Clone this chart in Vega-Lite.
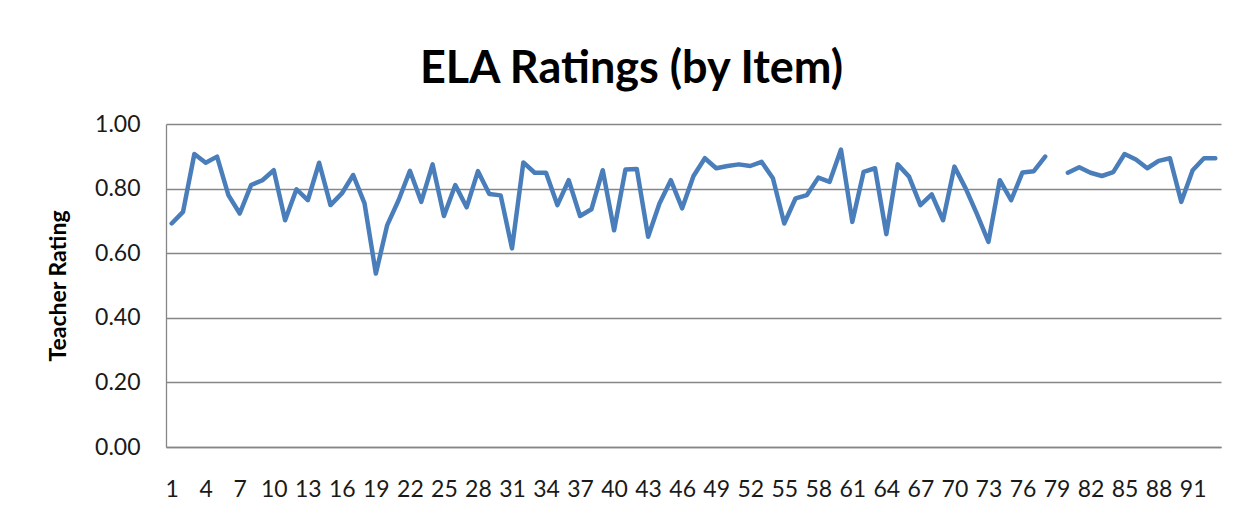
{
  "$schema": "https://vega.github.io/schema/vega-lite/v6.json",
  "width": 1055,
  "height": 323,
  "autosize": {"type": "none"},
  "padding": {"left": 166, "top": 124, "right": 24, "bottom": 77},
  "background": "white",
  "title": {
    "text": "ELA Ratings (by Item)",
    "font": "Lato",
    "fontSize": 45,
    "fontWeight": "bold",
    "color": "#000000",
    "anchor": "middle",
    "dx": -62,
    "offset": 21
  },
  "data": {
    "values": [
      {"item": 1, "rating": 0.692},
      {"item": 2, "rating": 0.728},
      {"item": 3, "rating": 0.907},
      {"item": 4, "rating": 0.880},
      {"item": 5, "rating": 0.899},
      {"item": 6, "rating": 0.780},
      {"item": 7, "rating": 0.723},
      {"item": 8, "rating": 0.811},
      {"item": 9, "rating": 0.826},
      {"item": 10, "rating": 0.857},
      {"item": 11, "rating": 0.702},
      {"item": 12, "rating": 0.798},
      {"item": 13, "rating": 0.764},
      {"item": 14, "rating": 0.880},
      {"item": 15, "rating": 0.749},
      {"item": 16, "rating": 0.785},
      {"item": 17, "rating": 0.842},
      {"item": 18, "rating": 0.754},
      {"item": 19, "rating": 0.537},
      {"item": 20, "rating": 0.687},
      {"item": 21, "rating": 0.764},
      {"item": 22, "rating": 0.855},
      {"item": 23, "rating": 0.759},
      {"item": 24, "rating": 0.875},
      {"item": 25, "rating": 0.715},
      {"item": 26, "rating": 0.811},
      {"item": 27, "rating": 0.742},
      {"item": 28, "rating": 0.854},
      {"item": 29, "rating": 0.783},
      {"item": 30, "rating": 0.779},
      {"item": 31, "rating": 0.615},
      {"item": 32, "rating": 0.881},
      {"item": 33, "rating": 0.849},
      {"item": 34, "rating": 0.849},
      {"item": 35, "rating": 0.749},
      {"item": 36, "rating": 0.826},
      {"item": 37, "rating": 0.715},
      {"item": 38, "rating": 0.736},
      {"item": 39, "rating": 0.857},
      {"item": 40, "rating": 0.671},
      {"item": 41, "rating": 0.859},
      {"item": 42, "rating": 0.861},
      {"item": 43, "rating": 0.651},
      {"item": 44, "rating": 0.754},
      {"item": 45, "rating": 0.826},
      {"item": 46, "rating": 0.739},
      {"item": 47, "rating": 0.839},
      {"item": 48, "rating": 0.894},
      {"item": 49, "rating": 0.863},
      {"item": 50, "rating": 0.870},
      {"item": 51, "rating": 0.875},
      {"item": 52, "rating": 0.870},
      {"item": 53, "rating": 0.883},
      {"item": 54, "rating": 0.832},
      {"item": 55, "rating": 0.692},
      {"item": 56, "rating": 0.770},
      {"item": 57, "rating": 0.780},
      {"item": 58, "rating": 0.834},
      {"item": 59, "rating": 0.821},
      {"item": 60, "rating": 0.921},
      {"item": 61, "rating": 0.697},
      {"item": 62, "rating": 0.852},
      {"item": 63, "rating": 0.863},
      {"item": 64, "rating": 0.659},
      {"item": 65, "rating": 0.875},
      {"item": 66, "rating": 0.837},
      {"item": 67, "rating": 0.749},
      {"item": 68, "rating": 0.782},
      {"item": 69, "rating": 0.702},
      {"item": 70, "rating": 0.868},
      {"item": 71, "rating": 0.800},
      {"item": 72, "rating": 0.720},
      {"item": 73, "rating": 0.635},
      {"item": 74, "rating": 0.826},
      {"item": 75, "rating": 0.764},
      {"item": 76, "rating": 0.850},
      {"item": 77, "rating": 0.854},
      {"item": 78, "rating": 0.899},
      {"item": 79, "rating": null},
      {"item": 80, "rating": 0.849},
      {"item": 81, "rating": 0.866},
      {"item": 82, "rating": 0.849},
      {"item": 83, "rating": 0.839},
      {"item": 84, "rating": 0.851},
      {"item": 85, "rating": 0.907},
      {"item": 86, "rating": 0.890},
      {"item": 87, "rating": 0.863},
      {"item": 88, "rating": 0.886},
      {"item": 89, "rating": 0.894},
      {"item": 90, "rating": 0.759},
      {"item": 91, "rating": 0.857},
      {"item": 92, "rating": 0.894},
      {"item": 93, "rating": 0.894}
    ]
  },
  "mark": {
    "type": "line",
    "color": "#4a7ebb",
    "strokeWidth": 4.5,
    "strokeJoin": "round",
    "strokeCap": "round",
    "invalid": "break-paths-show-domains"
  },
  "encoding": {
    "x": {
      "field": "item",
      "type": "quantitative",
      "scale": {"domain": [0.5, 93.5], "nice": false, "zero": false},
      "axis": {
        "title": null,
        "values": [1, 4, 7, 10, 13, 16, 19, 22, 25, 28, 31, 34, 37, 40, 43, 46, 49, 52, 55, 58, 61, 64, 67, 70, 73, 76, 79, 82, 85, 88, 91],
        "grid": false,
        "ticks": false,
        "domain": true,
        "domainColor": "#868686",
        "domainWidth": 1.3,
        "labelFont": "Lato",
        "labelFontSize": 23,
        "labelColor": "#1a1a1a",
        "labelPadding": 31,
        "labelFlush": false,
        "labelOverlap": false
      }
    },
    "y": {
      "field": "rating",
      "type": "quantitative",
      "scale": {"domain": [0, 1], "nice": false},
      "axis": {
        "title": "Teacher Rating",
        "titleFont": "Lato",
        "titleFontSize": 23,
        "titleFontWeight": "bold",
        "titleColor": "#000000",
        "titlePadding": 24,
        "values": [0, 0.2, 0.4, 0.6, 0.8, 1.0],
        "format": ".2f",
        "grid": true,
        "gridColor": "#868686",
        "gridWidth": 1.3,
        "ticks": false,
        "domain": true,
        "domainColor": "#868686",
        "domainWidth": 1.3,
        "labelFont": "Lato",
        "labelFontSize": 23,
        "labelColor": "#1a1a1a",
        "labelPadding": 26
      }
    }
  },
  "config": {
    "view": {"stroke": null}
  }
}
